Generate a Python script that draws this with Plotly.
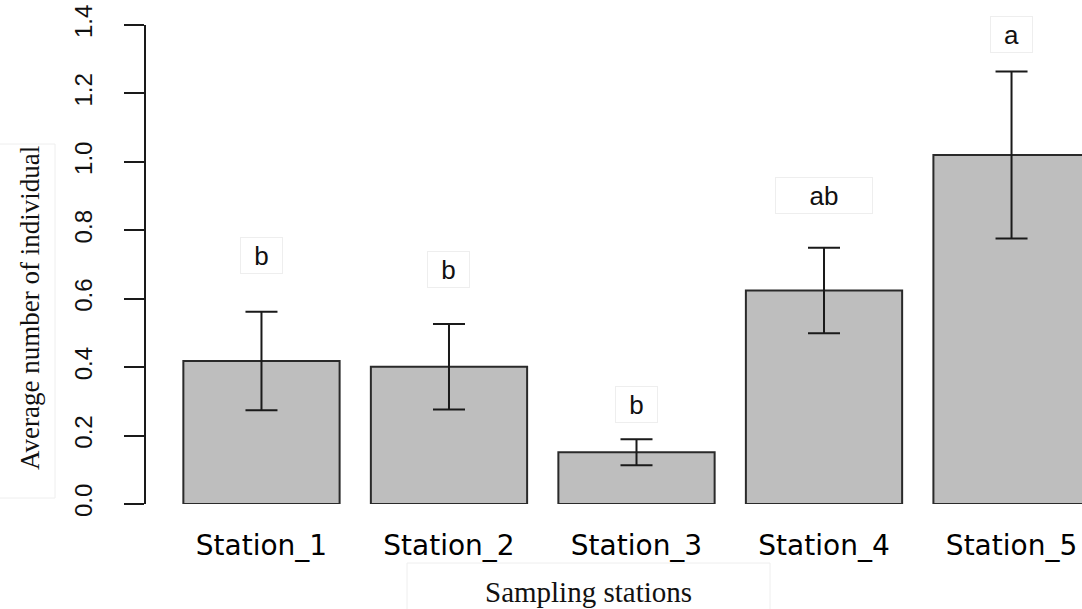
import plotly.graph_objects as go

# Data
stations = ["Station_1", "Station_2", "Station_3", "Station_4", "Station_5"]
mean_individuals = [0.418, 0.401, 0.151, 0.624, 1.020]
std_error = [0.144, 0.125, 0.038, 0.125, 0.244]
group_letters = ["b", "b", "b", "ab", "a"]
letter_y = [0.726, 0.684, 0.291, 0.903, 1.371]
y_ticks = [0.0, 0.2, 0.4, 0.6, 0.8, 1.0, 1.2, 1.4]
y_tick_labels = ["0.0", "0.2", "0.4", "0.6", "0.8", "1.0", "1.2", "1.4"]

# barplot-style positions: width 1, space 0.2
bar_x = [0.7 + 1.2 * i for i in range(len(stations))]

W, H = 1082, 609
L, R, T, B = 146, 0, 25, 105
PW, PH = W - L - R, H - T - B


def px_x(x):
    return (x - L) / PW


def px_y(y):
    return (H - B - y) / PH


fig = go.Figure()
fig.add_trace(go.Bar(
    x=bar_x,
    y=mean_individuals,
    width=1.0,
    marker=dict(color="#BEBEBE", line=dict(color="#2a2a2a", width=2)),
    error_y=dict(type="data", array=std_error, visible=True,
                 color="#1a1a1a", thickness=2, width=16),
    hoverinfo="skip",
))

annotations = []
for xi, yi, txt in zip(bar_x, letter_y, group_letters):
    annotations.append(dict(
        x=xi, y=yi, xref="x", yref="y", text=txt, showarrow=False,
        font=dict(family="Liberation Sans, Arial, sans-serif", size=26, color="#111"),
        bgcolor="white", bordercolor="#eeeeee", borderwidth=1, borderpad=5,
        width=31 if len(txt) == 1 else 86, height=25,
    ))

annotations.append(dict(
    x=px_x(588), y=px_y(592), xref="paper", yref="paper",
    xanchor="center", yanchor="middle",
    text="Sampling stations", showarrow=False,
    font=dict(family="Liberation Serif, Times New Roman, serif", size=29, color="#111"),
))
annotations.append(dict(
    x=px_x(30), y=px_y(308), xref="paper", yref="paper",
    xanchor="center", yanchor="middle",
    text="Average number of individual", showarrow=False, textangle=-90,
    font=dict(family="Liberation Serif, Times New Roman, serif", size=27, color="#111"),
))

shapes = [
    dict(type="rect", xref="paper", yref="paper",
         x0=px_x(407), x1=px_x(770), y0=px_y(640), y1=px_y(563),
         line=dict(color="#eeeeee", width=1), fillcolor="rgba(0,0,0,0)", layer="below"),
    dict(type="rect", xref="paper", yref="paper",
         x0=px_x(-5), x1=px_x(55), y0=px_y(498), y1=px_y(144),
         line=dict(color="#eeeeee", width=1), fillcolor="rgba(0,0,0,0)", layer="below"),
]

fig.update_layout(
    width=W, height=H,
    margin=dict(l=L, r=R, t=T, b=B, pad=0),
    paper_bgcolor="white", plot_bgcolor="white",
    showlegend=False,
    annotations=annotations,
    shapes=shapes,
    xaxis=dict(
        range=[-0.039, 5.951], tickvals=bar_x, ticktext=stations,
        showgrid=False, zeroline=False, showline=False, ticks="",
        tickfont=dict(family="DejaVu Sans, sans-serif", size=28, color="#000"),
        ticklabelstandoff=22,
    ),
    yaxis=dict(
        range=[0, 1.4], tickvals=y_ticks, ticktext=y_tick_labels,
        showgrid=False, zeroline=False, showline=True, linecolor="#1a1a1a", linewidth=2,
        ticks="outside", ticklen=20, tickwidth=2, tickcolor="#1a1a1a",
        tickangle=-90,
        tickfont=dict(family="Liberation Sans, Arial, sans-serif", size=24, color="#111"),
        ticklabelstandoff=22,
    ),
)

fig.write_html("out.html")
